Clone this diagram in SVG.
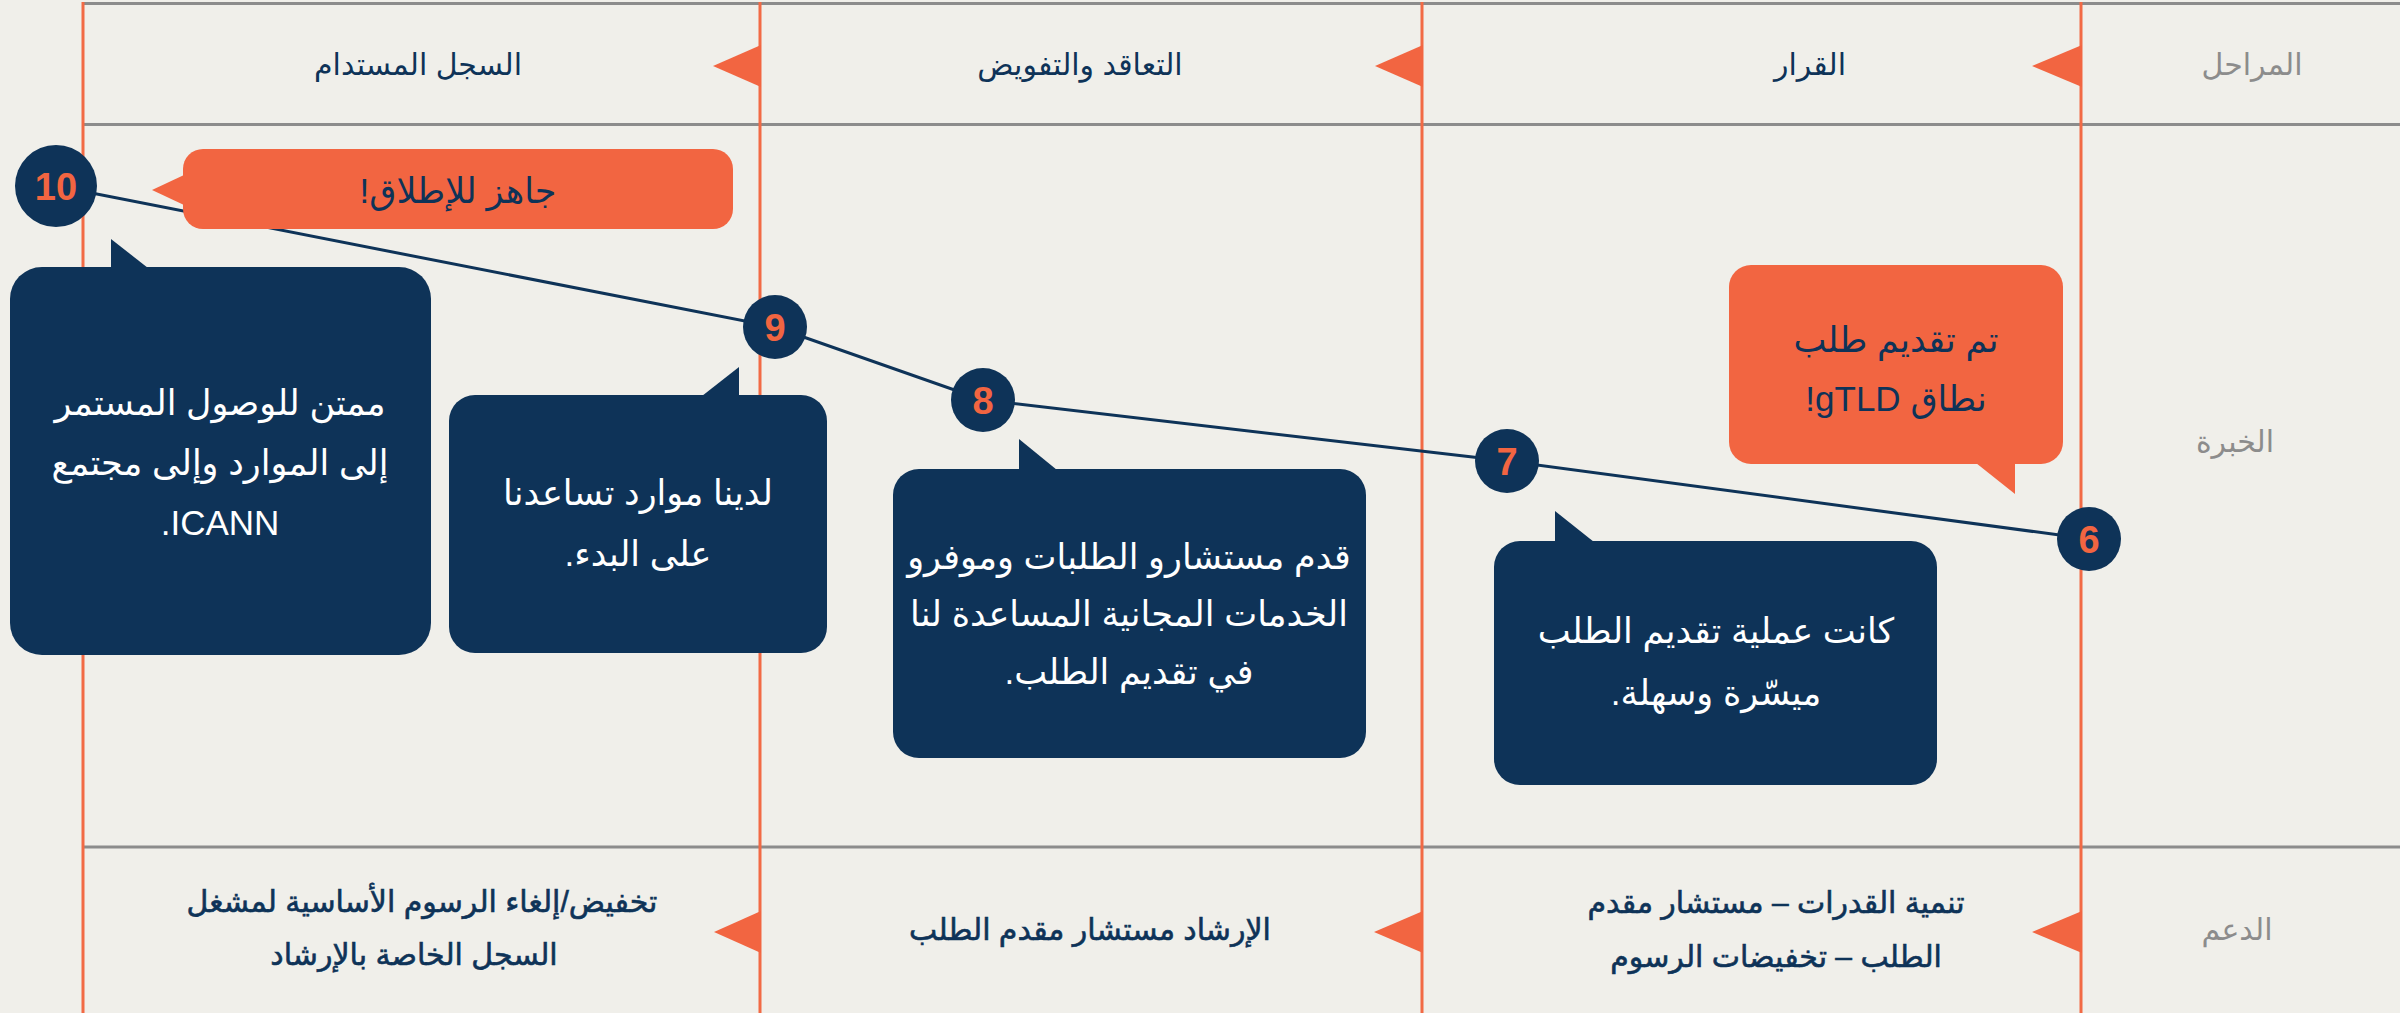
<svg xmlns="http://www.w3.org/2000/svg" width="2400" height="1013" viewBox="0 0 2400 1013">
<style>
.t{font-family:"Liberation Sans","DejaVu Sans",sans-serif;text-anchor:middle;direction:rtl}
.hd{font-size:30px;fill:#0e3358}
.gr{font-size:30px;fill:#8c8c8c}
.bt{font-size:30px;fill:#0e3358;stroke:#0e3358;stroke-width:0.6}
.wt{font-size:35px;fill:#ffffff}
.ot{font-size:35px;fill:#0e3358}
.num{font-family:"Liberation Sans","DejaVu Sans",sans-serif;font-weight:bold;font-size:38px;fill:#f26541;text-anchor:middle}
.navy{fill:#0e3358}
.org{fill:#f26541}
.vl{stroke:#f26a45;stroke-width:3}
.hl{stroke:#8c8c8c;stroke-width:3}
</style>
<rect x="0" y="0" width="2400" height="1013" fill="#f0efea"/>
<g id="grid">
<line class="hl" x1="83" y1="3.5" x2="2400" y2="3.5"/>
<line class="hl" x1="83" y1="124.5" x2="2400" y2="124.5"/>
<line class="hl" x1="83" y1="847" x2="2400" y2="847"/>
<line class="vl" x1="83" y1="2" x2="83" y2="1013"/>
<line class="vl" x1="760" y1="2" x2="760" y2="1013"/>
<line class="vl" x1="1422" y1="2" x2="1422" y2="1013"/>
<line class="vl" x1="2081" y1="2" x2="2081" y2="1013"/>
<polygon class="org" points="761,45 761,87 713,66"/>
<polygon class="org" points="1423,45 1423,87 1375,66"/>
<polygon class="org" points="2082,45 2082,87 2032,66"/>
<polygon class="org" points="761,911 761,953 714,932"/>
<polygon class="org" points="1423,911 1423,953 1374,932"/>
<polygon class="org" points="2082,911 2082,953 2032,932"/>
</g>
<g id="labels">
<text class="t gr" x="2252" y="75">المراحل</text>
<text class="t hd" x="418" y="75">السجل المستدام</text>
<text class="t hd" x="1080" y="75">التعاقد والتفويض</text>
<text class="t hd" x="1810" y="75">القرار</text>
<text class="t gr" x="2235" y="452">الخبرة</text>
<text class="t gr" x="2237" y="940">الدعم</text>
<text class="t bt" x="422" y="912">تخفيض/إلغاء الرسوم الأساسية لمشغل</text>
<text class="t bt" x="414" y="965">السجل الخاصة بالإرشاد</text>
<text class="t bt" x="1090" y="940">الإرشاد مستشار مقدم الطلب</text>
<text class="t bt" x="1776" y="913">تنمية القدرات – مستشار مقدم</text>
<text class="t bt" x="1776" y="967">الطلب – تخفيضات الرسوم</text>
</g>
<g id="connectors">
<polyline points="56,186 775,327 983,400 1507,461 2089,539" fill="none" stroke="#0e3358" stroke-width="3"/>
</g>
<g id="bubble-10-orange">
<rect class="org" x="183" y="149" width="550" height="80" rx="20"/>
<polygon class="org" points="184,175 152,190 184,205"/>
<text class="t ot" x="458" y="203">جاهز للإطلاق!</text>
</g>
<g id="bubble-10">
<rect class="navy" x="10" y="267" width="421" height="388" rx="32"/>
<polygon class="navy" points="111,239 111,268 148,268"/>
<text class="t wt" x="220" y="415">ممتن للوصول المستمر</text>
<text class="t wt" x="220" y="475">إلى الموارد وإلى مجتمع</text>
<text class="t wt" x="220" y="535">ICANN.</text>
</g>
<g id="bubble-9">
<rect class="navy" x="449" y="395" width="378" height="258" rx="26"/>
<polygon class="navy" points="702,396 739,367 739,396"/>
<text class="t wt" x="638" y="505">لدينا موارد تساعدنا</text>
<text class="t wt" x="638" y="566">على البدء.</text>
</g>
<g id="bubble-8">
<rect class="navy" x="893" y="469" width="473" height="289" rx="26"/>
<polygon class="navy" points="1019,439 1019,470 1057,470"/>
<text class="t wt" x="1129" y="569">قدم مستشارو الطلبات وموفرو</text>
<text class="t wt" x="1129" y="626">الخدمات المجانية المساعدة لنا</text>
<text class="t wt" x="1129" y="684">في تقديم الطلب.</text>
</g>
<g id="bubble-7">
<rect class="navy" x="1494" y="541" width="443" height="244" rx="26"/>
<polygon class="navy" points="1555,511 1555,542 1594,542"/>
<text class="t wt" x="1716" y="643">كانت عملية تقديم الطلب</text>
<text class="t wt" x="1716" y="705">ميسّرة وسهلة.</text>
</g>
<g id="bubble-6">
<rect class="org" x="1729" y="265" width="334" height="199" rx="22"/>
<polygon class="org" points="1976,463 2015,463 2015,494"/>
<text class="t ot" x="1896" y="352">تم تقديم طلب</text>
<text class="t ot" x="1896" y="411">نطاق gTLD!</text>
</g>
<g id="node-10"><circle class="navy" cx="56" cy="186" r="41"/><text class="num" x="56" y="200">10</text></g>
<g id="node-9"><circle class="navy" cx="775" cy="327" r="32"/><text class="num" x="775" y="341">9</text></g>
<g id="node-8"><circle class="navy" cx="983" cy="400" r="32"/><text class="num" x="983" y="414">8</text></g>
<g id="node-7"><circle class="navy" cx="1507" cy="461" r="32"/><text class="num" x="1507" y="475">7</text></g>
<g id="node-6"><circle class="navy" cx="2089" cy="539" r="32"/><text class="num" x="2089" y="553">6</text></g>
</svg>
